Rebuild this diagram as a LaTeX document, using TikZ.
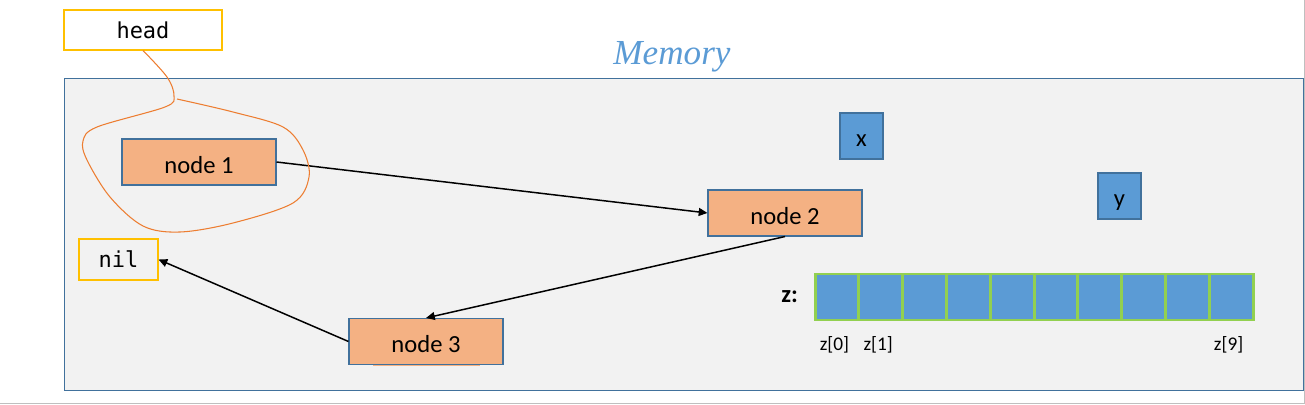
\documentclass[tikz,border=0pt]{standalone}
\usepackage{fontspec}
\setmainfont{Carlito}
\newfontfamily\codefont{DejaVu Sans Mono}
\newfontfamily\titlefont{Liberation Serif}
\usepackage{tikz}
\usetikzlibrary{arrows.meta, positioning}
\usepackage{xcolor}
\definecolor{memgray}{RGB}{242,242,242}
\definecolor{memblue}{RGB}{65,113,156}
\definecolor{nodeorange}{RGB}{244,177,131}
\definecolor{ptryellow}{RGB}{255,192,0}
\definecolor{cellblue}{RGB}{91,155,213}
\definecolor{cellgreen}{RGB}{146,208,80}
\definecolor{loopcolor}{RGB}{237,125,49}

\begin{document}
\begin{tikzpicture}[
  x=0.02cm, y=-0.02cm,
  memframe/.style={draw=memblue, fill=memgray, line width=0.6pt,
                   minimum width=24.8cm, minimum height=6.26cm, inner sep=0pt},
  memlabel/.style={font=\titlefont\itshape\fontsize{20}{24}\selectfont, text=cellblue},
  ptr/.style={draw=ptryellow, line width=0.6pt, minimum height=0.8cm,
              font=\codefont\fontsize{12.5}{15}\selectfont, inner sep=0pt},
  listnode/.style={draw=memblue, fill=nodeorange, line width=0.6pt,
                   minimum width=3.08cm, minimum height=0.92cm,
                   text height=13pt, text depth=0pt,
                   font=\fontsize{14}{17}\selectfont, inner sep=0pt},
  var/.style={draw=memblue, fill=cellblue, line width=0.6pt,
              minimum width=0.86cm, minimum height=0.92cm,
              text height=12pt, text depth=0pt,
              font=\fontsize{14}{17}\selectfont, inner sep=0pt},
  cell/.style={draw=cellgreen, fill=cellblue, line width=1.7pt,
               minimum width=0.876cm, minimum height=0.92cm,
               inner sep=0pt, outer sep=0pt},
  idx/.style={font=\fontsize{11}{13}\selectfont, inner sep=1pt},
  arr/.style={-{Triangle[length=5pt, width=4.5pt]}, line width=0.85pt, black},
  headloop/.style={draw=loopcolor, line width=0.6pt}
]
\useasboundingbox (0,0) rectangle (1305,405);
\draw[black!25, line width=0.6pt] (0,403.5) -- (1304.6,403.5) -- (1304.6,0);
\node[memframe] (mem) at (684,234.5) {};
\node[memlabel] (memlbl) at (672,57) {Memory};
\node[ptr, fill=white, minimum width=3.16cm] (head) at (143,30) {head};
\node[ptr, fill=memgray, minimum width=1.58cm, minimum height=0.82cm] (nil) at (118.5,259.5) {nil};
\node[listnode] (node1) at (199,162) {node 1};
\node[listnode] (node2) at (785,213) {node 2};
\node[listnode] (node3) at (426,341.5) {node 3};
% gap in the lower edge of node 3
\draw[nodeorange, line width=1pt] ([xshift=0.5cm, yshift=-0.3pt]node3.south west)
  -- ([xshift=-0.48cm, yshift=-0.3pt]node3.south east);
\node[var] (x) at (861.5,136) {x};
\node[var] (y) at (1119.5,196) {y};
\foreach \i in {0,...,9}
  \node[cell] (z\i) at ({836.9+43.8*\i},297) {};
\node[font=\bfseries\fontsize{14}{17}\selectfont, inner sep=1pt, left=0.3cm of z0] (zlbl) {z:};
\node[idx, below=0.28cm of z0, xshift=-0.05cm] (z0lbl) {z[0]};
\node[idx, below=0.28cm of z1, xshift=-0.05cm] (z1lbl) {z[1]};
\node[idx, below=0.28cm of z9, xshift=-0.05cm] (z9lbl) {z[9]};
\draw[arr] (node1.east) -- (node2.west);
\draw[arr] (node2.south) -- (node3.north);
\draw[arr] (node3.west) -- (nil.east);
\draw[headloop] plot[smooth, tension=0.55] coordinates {(head.south) (167,77) (174,96)
  (165,107) (97,127) (83,141) (87,160) (110,197) (143,226) (180,232) (233,223)
  (293,203) (309,177) (303,150) (283,127) (233,112) (177,99)};
\end{tikzpicture}
\end{document}
